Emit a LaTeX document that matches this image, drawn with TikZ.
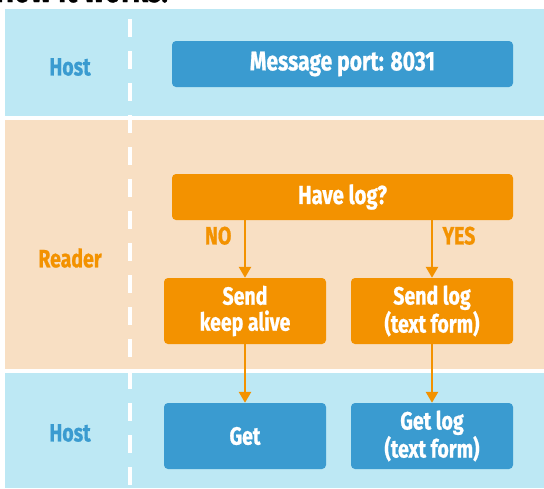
\documentclass[tikz,border=0pt]{standalone}
\usepackage{fontspec}
\setmainfont{Fira Sans}[FakeStretch=0.78, BoldFeatures={FakeBold=0.8}]
\usetikzlibrary{positioning, arrows.meta}
\definecolor{HostLight}{HTML}{BDE8F4}
\definecolor{HostBlue}{HTML}{3A9BD0}
\definecolor{ReaderLight}{HTML}{F8DFC3}
\definecolor{ReaderOrange}{HTML}{F39200}

\begin{document}
\begin{tikzpicture}[x=1pt, y=-1pt,
  hostbox/.style={fill=HostBlue, text=white, rounded corners=4pt, inner sep=0pt,
    align=center, font=\bfseries\fontsize{25}{26}\selectfont},
  readerbox/.style={hostbox, fill=ReaderOrange},
  lanelabel/.style={font=\bfseries\fontsize{25}{26}\selectfont},
  flowarrow/.style={draw=ReaderOrange, line width=2.5pt,
    -{Triangle[width=12pt,length=11pt]}}]
  % Rahmen / Frame
  \useasboundingbox (0,0) rectangle (544,488);
  \clip (0,0) rectangle (544,488);
  \fill[white] (0,0) rectangle (544,488);
  \node[anchor=base west, font=\bfseries\fontsize{36}{36}\selectfont] (title) at (-8,2) {How it works:};
  % Bahnen / Lanes
  \fill[HostLight] (5,9) rectangle (544,116);
  \fill[ReaderLight] (5,120) rectangle (544,369);
  \fill[HostLight] (5,373) rectangle (544,488);
  \draw[white, line width=3.5pt, dash pattern=on 18pt off 14pt] (130,19) -- (130,488);
  % Bahnnamen / Lane names
  \node[lanelabel, text=HostBlue] (hosttop) at (70,67) {Host};
  \node[lanelabel, text=ReaderOrange] (reader) at (70,258) {Reader};
  \node[lanelabel, text=HostBlue] (hostbottom) at (70,433) {Host};
  % Kaesten / Boxes
  \node[hostbox, minimum width=341, minimum height=46, font=\bfseries\fontsize{27}{28}\selectfont] (port) at (342.5,64) {Message port: 8031};
  \node[readerbox, minimum width=341, minimum height=46, font=\bfseries\fontsize{26}{28}\selectfont] (havelog) at (342.5,197) {Have log?};
  \node[readerbox, minimum width=162, minimum height=66] (keepalive) at (245,311) {Send\\keep alive};
  \node[readerbox, minimum width=162, minimum height=66] (sendlog) at (432,311) {Send log\\(text form)};
  \node[hostbox, minimum width=162, minimum height=66] (get) at (245,436) {Get};
  \node[hostbox, minimum width=162, minimum height=66] (getlog) at (432,436) {Get log\\(text form)};
  % Pfeile / Arrows
  \draw[flowarrow] (keepalive |- havelog.south) -- node[lanelabel, text=ReaderOrange, pos=0.27, left=9pt] (no) {NO} (keepalive.north);
  \draw[flowarrow] (sendlog |- havelog.south) -- node[lanelabel, text=ReaderOrange, pos=0.27, right=6pt] (yes) {YES} (sendlog.north);
  \draw[flowarrow] (keepalive) -- (get);
  \draw[flowarrow] (sendlog) -- (getlog);
\end{tikzpicture}
\end{document}
